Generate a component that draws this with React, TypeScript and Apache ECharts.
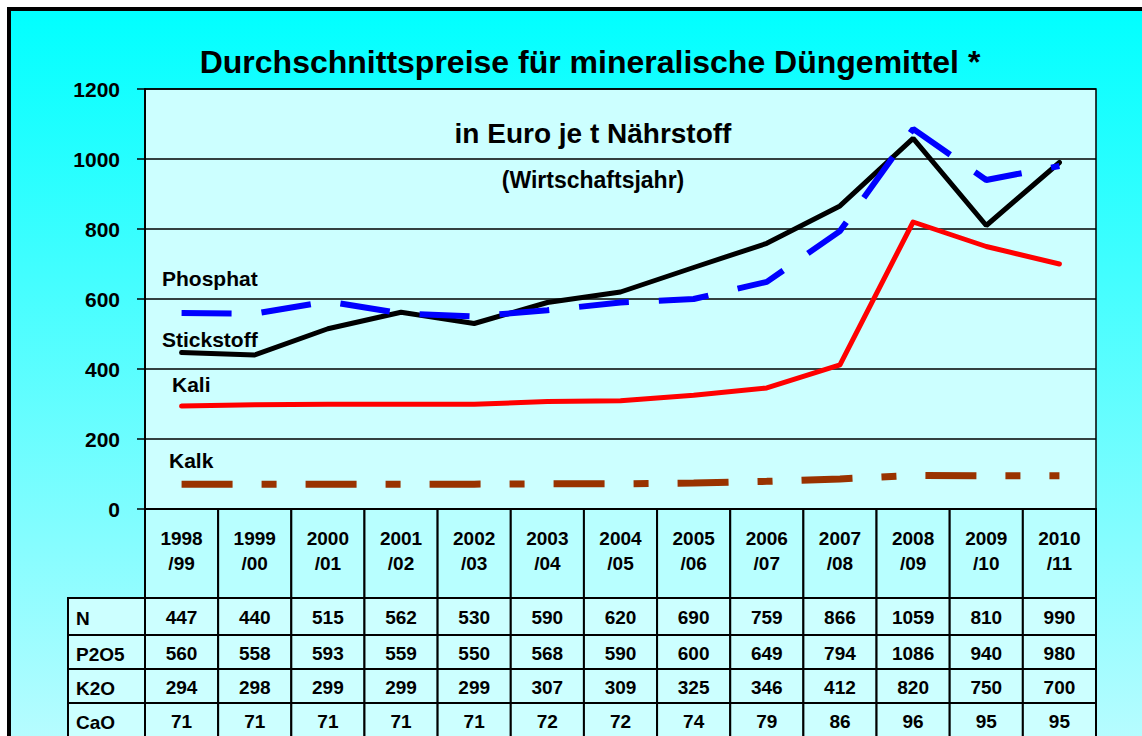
import React, { useEffect, useRef } from "react";
import * as echarts from "echarts";

const categories = ["1998/99","1999/00","2000/01","2001/02","2002/03","2003/04","2004/05","2005/06","2006/07","2007/08","2008/09","2009/10","2010/11"];
const stickstoffN = [447,440,515,562,530,590,620,690,759,866,1059,810,990];
const phosphatP2O5 = [560,558,593,559,550,568,590,600,649,794,1086,940,980];
const kaliK2O = [294,298,299,299,299,307,309,325,346,412,820,750,700];
const kalkCaO = [71,71,71,71,71,72,72,74,79,86,96,95,95];
const rowLabels = ["N","P2O5","K2O","CaO"];
const rowSeries = [stickstoffN, phosphatP2O5, kaliK2O, kalkCaO];
const yTicks = { min: 0, max: 1200, interval: 200 };

const FONT = '"Liberation Sans", Arial, sans-serif';

export default function App() {
  const ref = useRef<HTMLDivElement>(null);
  useEffect(() => {
    if (!ref.current) return;
    const chart = echarts.init(ref.current, null, { renderer: "svg" });
    const rowHeights = [37, 34, 34, 34];
    const headerH = 89;
    const tableData = categories.map((c, i) => [i, 0, ...rowSeries.map((s) => s[i])]);
    const label = (text: string, x: number, y: number, size: number, align = "left") => ({
      type: "text",
      z: 10,
      silent: true,
      position: [x, y],
      style: { text, font: `bold ${size}px ${FONT}`, fill: "#000", align, verticalAlign: "middle" },
    });

    const option: any = {
      animation: false,
      backgroundColor: "transparent",
      textStyle: { fontFamily: FONT },
      title: {
        text: "Durchschnittspreise für mineralische Düngemittel *",
        left: 585,
        textAlign: "center",
        top: 41,
        textStyle: { fontSize: 32, fontWeight: "bold", color: "#000", fontFamily: FONT },
      },
      graphic: [
        {
          type: "rect",
          z: -10,
          silent: true,
          shape: { x: 9, y: 9, width: 1200, height: 800 },
          style: {
            fill: new echarts.graphic.LinearGradient(0, 0, 0, 1, [
              { offset: 0, color: "#00FFFF" },
              { offset: 1, color: "#C8FCFF" },
            ]),
            stroke: "#000",
            lineWidth: 4,
          },
        },
        label("in Euro je t Nährstoff", 593, 133, 28, "center"),
        label("(Wirtschaftsjahr)", 593, 180, 23, "center"),
        label("Phosphat", 162, 278, 21),
        label("Stickstoff", 162, 339, 21),
        label("Kali", 172, 384, 21),
        label("Kalk", 169, 460, 21),
      ],
      grid: {
        left: 145,
        top: 89,
        right: 46,
        bottom: 227,
        show: true,
        backgroundColor: "#CCFFFF",
        borderColor: "#000",
        borderWidth: 1.5,
      },
      xAxis: {
        type: "category",
        data: categories,
        boundaryGap: true,
        axisLine: { show: true, lineStyle: { color: "#000", width: 2 } },
        axisTick: { show: false },
        axisLabel: { show: false },
        splitLine: { show: false },
      },
      yAxis: {
        type: "value",
        min: yTicks.min,
        max: yTicks.max,
        interval: yTicks.interval,
        axisLine: { show: true, lineStyle: { color: "#000", width: 2 } },
        axisTick: { show: true, length: 8, lineStyle: { color: "#000", width: 1.5 } },
        axisLabel: {
          margin: 25,
          color: "#000",
          fontSize: 21,
          fontWeight: "bold",
          fontFamily: FONT,
          formatter: (v: number) => String(v),
        },
        splitLine: { show: true, lineStyle: { color: "#000", width: 1.5 } },
      },
      series: [
        {
          name: "Kalk",
          type: "line",
          data: kalkCaO,
          symbol: "none",
          lineStyle: { color: "#993300", width: 7, type: [51, 29, 15, 29], cap: "butt" },
          z: 3,
        },
        {
          name: "Kali",
          type: "line",
          data: kaliK2O,
          symbol: "none",
          lineStyle: { color: "#FF0000", width: 5, cap: "round", join: "round" },
          z: 3,
        },
        {
          name: "Stickstoff",
          type: "line",
          data: stickstoffN,
          symbol: "none",
          lineStyle: { color: "#000000", width: 5, cap: "round" },
          z: 4,
        },
        {
          name: "Phosphat",
          type: "line",
          data: phosphatP2O5,
          symbol: "none",
          lineStyle: { color: "#0000FF", width: 6, type: [50, 30], cap: "butt" },
          z: 5,
        },
        {
          name: "Tabelle",
          type: "custom",
          clip: false,
          silent: true,
          z: 6,
          encode: { x: 0, y: 1 },
          data: tableData,
          renderItem: (params: any, api: any) => {
            const i = api.value(0);
            const pt = api.coord([i, 0]);
            const bw = api.size([1, 0])[0];
            const x0 = pt[0] - bw / 2;
            const y0 = pt[1];
            const children: any[] = [];
            const cat = categories[params.dataIndex];
            const slash = cat.indexOf("/");
            const tfont = `bold 19px ${FONT}`;
            children.push({
              type: "rect",
              shape: { x: x0, y: y0, width: bw, height: headerH },
              style: { fill: "#B8FFFF", stroke: "#000", lineWidth: 2 },
            });
            children.push({
              type: "text",
              style: { text: cat.slice(0, slash), x: pt[0], y: y0 + 29, align: "center", verticalAlign: "middle", font: tfont, fill: "#000" },
            });
            children.push({
              type: "text",
              style: { text: cat.slice(slash), x: pt[0], y: y0 + 54, align: "center", verticalAlign: "middle", font: tfont, fill: "#000" },
            });
            let y = y0 + headerH;
            for (let r = 0; r < rowLabels.length; r++) {
              const h = rowHeights[r];
              children.push({
                type: "rect",
                shape: { x: x0, y, width: bw, height: h },
                style: { fill: "#CCFFFF", stroke: "#000", lineWidth: 2 },
              });
              children.push({
                type: "text",
                style: { text: String(api.value(2 + r)), x: pt[0], y: y + h / 2 + 1, align: "center", verticalAlign: "middle", font: tfont, fill: "#000" },
              });
              if (params.dataIndex === 0) {
                children.push({
                  type: "rect",
                  shape: { x: x0 - 77, y, width: 77, height: h },
                  style: { fill: "#CCFFFF", stroke: "#000", lineWidth: 2 },
                });
                children.push({
                  type: "text",
                  style: { text: rowLabels[r], x: x0 - 69, y: y + h / 2 + 2, align: "left", verticalAlign: "middle", font: tfont, fill: "#000" },
                });
              }
              y += h;
            }
            return { type: "group", children };
          },
        },
      ],
    };
    chart.setOption(option);
    return () => chart.dispose();
  }, []);
  return (
    <div
      ref={ref}
      style={{ position: "fixed", left: 0, top: 0, width: 1142, height: 736, background: "#fff" }}
    />
  );
}
